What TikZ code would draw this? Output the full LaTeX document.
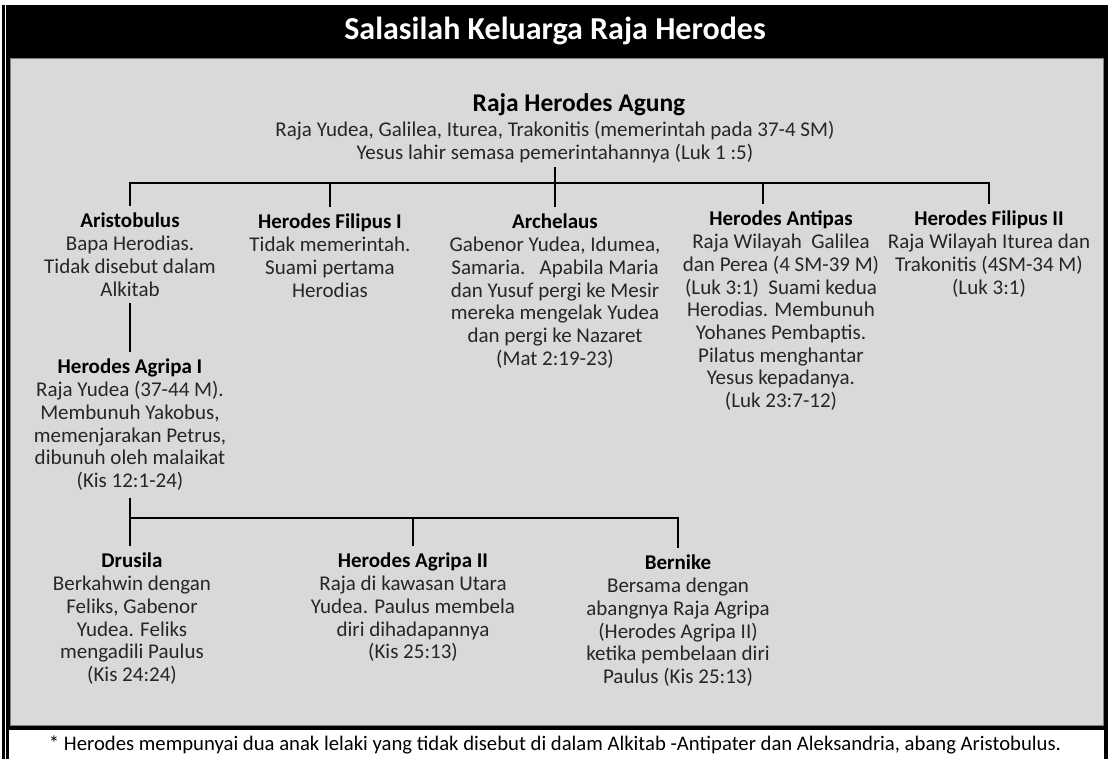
\documentclass[tikz,border=0pt]{standalone}
\usepackage{fontspec}
\setmainfont{Carlito}
\definecolor{panel}{HTML}{D9D9D9}
\definecolor{panelborder}{HTML}{7F7F7F}
\definecolor{bodytext}{HTML}{262626}
\begin{document}
\begin{tikzpicture}[x=1pt,y=-1pt,
  person/.style={anchor=north, align=center, inner xsep=0pt, inner ysep=7pt,
    font=\fontsize{21}{22.7}\selectfont, text=bodytext},
  headtop/.style={inner sep=0pt, font=\fontsize{25.5}{28}\selectfont\bfseries, text=black},
  link/.style={draw=black, line width=1.2pt}
]
\useasboundingbox (0,0) rectangle (1108,759);
% frame
\fill[white] (0,0) rectangle (1108,759);
\fill[black] (2,5) rectangle (1108,759);
\fill[white] (5,5) rectangle (6,759);
\filldraw[fill=panel, draw=panelborder, line width=1pt] (10,59) rectangle (1103,725);
\fill[white] (9,730) rectangle (1104,759);

\node[font=\fontsize{32}{38}\selectfont\bfseries, text=white] (title) at (555,31) {Salasilah Keluarga Raja Herodes};

\node[headtop] (topname) at (579,105) {Raja Herodes Agung};
\node[person, inner ysep=4pt] (top) at (555,117) {Raja Yudea, Galilea, Iturea, Trakonitis (memerintah pada 37-4 SM)\\Yesus lahir semasa pemerintahannya (Luk 1 :5)};

\node[person] (aris) at (130,206) {{\bfseries\color{black}Aristobulus}\\Bapa Herodias.\\Tidak disebut dalam\\Alkitab};
\node[person] (fil1) at (330,207) {{\bfseries\color{black}Herodes Filipus I}\\Tidak memerintah.\\Suami pertama\\Herodias};
\node[person] (arch) at (555,207) {{\bfseries\color{black}Archelaus}\\Gabenor Yudea, Idumea,\\Samaria.\ \ \ Apabila Maria\\dan Yusuf pergi ke Mesir\\mereka mengelak Yudea\\dan pergi ke Nazaret\\(Mat 2:19-23)};
\node[person] (anti) at (781,204) {{\bfseries\color{black}Herodes Antipas}\\Raja Wilayah\ \ Galilea\\dan Perea (4 SM-39 M)\\(Luk 3:1)\ \ Suami kedua\\Herodias. Membunuh\\Yohanes Pembaptis.\\Pilatus menghantar\\Yesus kepadanya.\\(Luk 23:7-12)};
\node[person] (fil2) at (989,204) {{\bfseries\color{black}Herodes Filipus II}\\Raja Wilayah Iturea dan\\Trakonitis (4SM-34 M)\\(Luk 3:1)};

\node[person] (agr1) at (130,352) {{\bfseries\color{black}Herodes Agripa I}\\Raja Yudea (37-44 M).\\Membunuh Yakobus,\\memenjarakan Petrus,\\dibunuh oleh malaikat\\(Kis 12:1-24)};

\node[person] (dru) at (132,546) {{\bfseries\color{black}Drusila}\\Berkahwin dengan\\Feliks, Gabenor\\Yudea. Feliks\\mengadili Paulus\\(Kis 24:24)};
\node[person] (agr2) at (413,546) {{\bfseries\color{black}Herodes Agripa II}\\Raja di kawasan Utara\\Yudea. Paulus membela\\diri dihadapannya\\(Kis 25:13)};
\node[person] (bern) at (678,548) {{\bfseries\color{black}Bernike}\\Bersama dengan\\abangnya Raja Agripa\\(Herodes Agripa II)\\ketika pembelaan diri\\Paulus (Kis 25:13)};

\node[font=\fontsize{20.7}{24}\selectfont, text=black] (note) at (555,745) {* Herodes mempunyai dua anak lelaki yang tidak disebut di dalam Alkitab -Antipater dan Aleksandria, abang Aristobulus.};

% connectors
\coordinate (bar) at (555,183);
\coordinate (jAnti) at (763,183);
\coordinate (bar2) at (128,518);
\draw[link] (top.south) -- (arch.north);
\draw[link] (aris.north) -- (aris.north |- bar) -- (fil2.north |- bar) -- (fil2.north);
\draw[link] (fil1.north |- bar) -- (fil1.north);
\draw[link] (jAnti) -- (jAnti |- anti.north);
\draw[link] (aris.south) -- (agr1.north);
\draw[link] (agr1.south) -- (agr1.south |- dru.north);
\draw[link] (agr1.south |- bar2) -| (bern.north);
\draw[link] (agr2.north |- bar2) -- (agr2.north);
\end{tikzpicture}
\end{document}
